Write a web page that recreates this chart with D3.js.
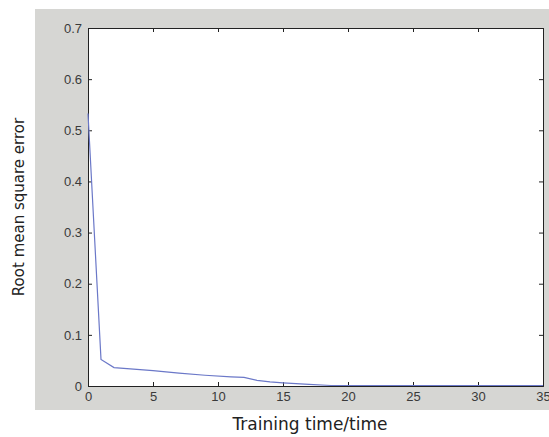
<!DOCTYPE html>
<html>
<head>
<meta charset="utf-8">
<script src="https://cdn.jsdelivr.net/npm/d3@7"></script>
<style>
  body { margin: 0; background: #fff; }
  svg { display: block; }
</style>
</head>
<body>
<svg id="svg"></svg>
<script>
// training error curve
const times = [0, 1, 2, 3, 5, 7, 9, 11, 12, 13, 14, 15, 17, 18.7, 20, 25, 30, 35];
const rmse = [0.533, 0.052, 0.036, 0.034, 0.030, 0.025, 0.021, 0.018, 0.017, 0.011, 0.008, 0.006, 0.003, 0.001, 0.001, 0.001, 0.001, 0.001];
const xTicks = [0, 5, 10, 15, 20, 25, 30, 35];
const yTicks = [0, 0.1, 0.2, 0.3, 0.4, 0.5, 0.6, 0.7];

const size = { width: 549, height: 437 };
const margin = { left: 88, top: 28, right: 6, bottom: 51 };

const svg = d3.select("#svg").attr("width", size.width).attr("height", size.height);

// grey figure background
svg.append("rect")
    .attr("x", 35).attr("y", 9)
    .attr("width", size.width - 35).attr("height", 401)
    .attr("fill", "#d6d6d3");

const x = d3.scaleLinear().domain([0, 35]).range([margin.left, size.width - margin.right]);
const y = d3.scaleLinear().domain([0, 0.7]).range([size.height - margin.bottom, margin.top]);

svg.append("rect")
    .attr("x", x(0)).attr("y", y(0.7))
    .attr("width", x(35) - x(0)).attr("height", y(0) - y(0.7))
    .attr("fill", "#fff");

const tickFont = g => g.selectAll("text")
    .attr("font-family", "Liberation Sans, Arial, sans-serif")
    .attr("font-size", 13)
    .attr("fill", "#3a3a3a");

// matlab style: ticks point inward, labels outside
svg.append("g")
    .attr("transform", `translate(0,${y(0)})`)
    .call(d3.axisBottom(x).tickValues(xTicks).tickFormat(d3.format("d")).tickSize(-4).tickPadding(6))
    .call(tickFont)
    .call(g => g.select(".domain").attr("stroke", "#222"));

svg.append("g")
    .attr("transform", `translate(0,${y(0.7)})`)
    .call(d3.axisTop(x).tickValues(xTicks).tickFormat("").tickSize(-4))
    .call(g => g.select(".domain").attr("stroke", "#222"));

svg.append("g")
    .attr("transform", `translate(${x(0)},0)`)
    .call(d3.axisLeft(y).tickValues(yTicks).tickFormat(d => d === 0 ? "0" : d3.format(".1f")(d)).tickSize(-4).tickPadding(6))
    .call(tickFont)
    .call(g => g.select(".domain").attr("stroke", "#222"));

svg.append("g")
    .attr("transform", `translate(${x(35)},0)`)
    .call(d3.axisRight(y).tickValues(yTicks).tickFormat("").tickSize(-4))
    .call(g => g.select(".domain").attr("stroke", "#222"));

svg.selectAll(".tick line").attr("stroke", "#222");

const line = d3.line().x((d, i) => x(times[i])).y(d => y(d));

svg.append("path")
    .datum(rmse)
    .attr("d", line)
    .attr("fill", "none")
    .attr("stroke", "#6b78c8")
    .attr("stroke-width", 1.2);

svg.append("text")
    .attr("x", 310)
    .attr("y", 430)
    .attr("text-anchor", "middle")
    .attr("font-family", "DejaVu Sans, sans-serif")
    .attr("font-size", 17)
    .attr("fill", "#222")
    .text("Training time/time");

svg.append("text")
    .attr("transform", `translate(24,${(y(0) + y(0.7)) / 2}) rotate(-90)`)
    .attr("text-anchor", "middle")
    .attr("font-family", "DejaVu Sans, sans-serif")
    .attr("font-size", 15)
    .attr("fill", "#222")
    .text("Root mean square error");
</script>
</body>
</html>
